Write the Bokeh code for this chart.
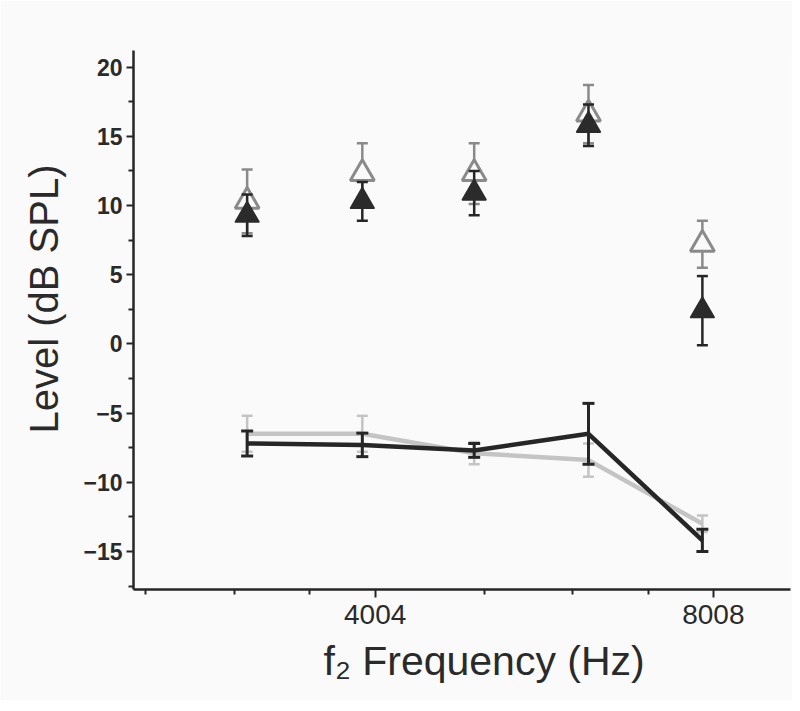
import numpy as np
from bokeh.plotting import figure
from bokeh.models import FixedTicker, Range1d, PrintfTickFormatter, Title
from bokeh.embed import file_html
from bokeh.resources import INLINE

# ---- data ----
freqs = [3080, 3900, 4905, 6200, 7830]          # f2 frequency (Hz)
dp_open = [10.3, 12.3, 12.3, 16.6, 7.2]          # open triangles
dp_open_err = [2.3, 2.2, 2.2, 2.1, 1.7]
dp_filled = [9.3, 10.3, 10.9, 15.8, 2.4]         # filled triangles
dp_filled_err = [1.5, 1.4, 1.6, 1.5, 2.5]
noise_dark = [-7.2, -7.3, -7.7, -6.5, -14.2]     # dark noise-floor line
noise_dark_err = [0.9, 0.85, 0.5, 2.2, 0.8]
noise_gray = [-6.5, -6.5, -7.9, -8.4, -13.0]     # light noise-floor line
noise_gray_err = [1.3, 1.3, 0.8, 1.2, 0.6]

x_major = [4004, 8008]
x_minor = [2502, 3003, 3503, 5005, 6006, 7007]
y_major = [-15, -10, -5, 0, 5, 10, 15, 20]
y_minor = [-17.5, -12.5, -7.5, -2.5, 2.5, 7.5, 12.5, 17.5]
x_title = "f\u2082 Frequency (Hz)"
y_title = "Level (dB SPL)"

FONT = "Liberation Sans"
BG = "#fafafa"
DARK = "#262626"
GRAY_OPEN = "#8a8a8a"
GRAY_LINE = "#c4c4c4"

W, H = 792, 700
p = figure(width=W, height=H, x_axis_type="log",
           x_range=Range1d(2440, 9380), y_range=Range1d(-17.75, 21.2),
           output_backend="svg", toolbar_location=None,
           min_border_left=133, min_border_right=2, min_border_top=50,
           min_border_bottom=111)
p.background_fill_color = BG
p.border_fill_color = BG
p.outline_line_color = None
p.xgrid.visible = False
p.ygrid.visible = False


def errbar(x, y, e, color, width, cap):
    y = np.array(y)
    e = np.array(e)
    p.segment(x0=x, y0=y - e, x1=x, y1=y + e, line_color=color, line_width=width)
    p.scatter(x, y + e, marker="dash", size=cap, line_color=color, line_width=width)
    p.scatter(x, y - e, marker="dash", size=cap, line_color=color, line_width=width)


# noise-floor lines
errbar(freqs, noise_gray, noise_gray_err, GRAY_LINE, 2.5, 11)
p.line(freqs, noise_gray, line_color=GRAY_LINE, line_width=4.5)
errbar(freqs, noise_dark, noise_dark_err, DARK, 3, 12)
p.line(freqs, noise_dark, line_color=DARK, line_width=4.5)

# DPOAE triangles
errbar(freqs, dp_open, dp_open_err, GRAY_OPEN, 2.5, 11)
p.scatter(freqs, dp_open, marker="triangle", size=24, fill_color=BG,
          line_color=GRAY_OPEN, line_width=3)
errbar(freqs, dp_filled, dp_filled_err, DARK, 2.5, 11)
p.scatter(freqs, dp_filled, marker="triangle", size=24, fill_color="#2b2b2b",
          line_color="#2b2b2b", line_width=1.5)

# axes
for ax in (p.xaxis, p.yaxis):
    ax.axis_line_color = DARK
    ax.axis_line_width = 2.5
    ax.major_tick_line_color = DARK
    ax.major_tick_line_width = 2
    ax.minor_tick_line_color = DARK
    ax.minor_tick_line_width = 2
    ax.major_tick_in = 0
    ax.minor_tick_in = 0
    ax.major_label_text_font = FONT
    ax.major_label_text_color = "#2a2a2a"

p.xaxis.ticker = FixedTicker(ticks=x_major, minor_ticks=x_minor)
p.xaxis.formatter = PrintfTickFormatter(format="%d")
p.xaxis.major_tick_out = 8
p.xaxis.minor_tick_out = 5
p.xaxis.major_label_text_font_size = "28px"
p.xaxis.major_label_standoff = 7

p.yaxis.ticker = FixedTicker(ticks=y_major, minor_ticks=y_minor)
p.yaxis.major_tick_out = 7
p.yaxis.minor_tick_out = 5
p.yaxis.major_label_text_font_size = "23px"
p.yaxis.major_label_text_font_style = "bold"
p.yaxis.major_label_standoff = 4

# axis titles as side-panel titles (offset along the axis, as in the original)
p.add_layout(Title(text=x_title, align="left", offset=190, standoff=19,
                   text_font=FONT, text_font_size="41px",
                   text_font_style="normal", text_color="#2a2a2a"), "below")
p.add_layout(Title(text=y_title, align="left", offset=156, standoff=30,
                   text_font=FONT, text_font_size="40px",
                   text_font_style="normal", text_color="#2a2a2a"), "left")

open("out.html", "w").write(file_html(p, INLINE))
